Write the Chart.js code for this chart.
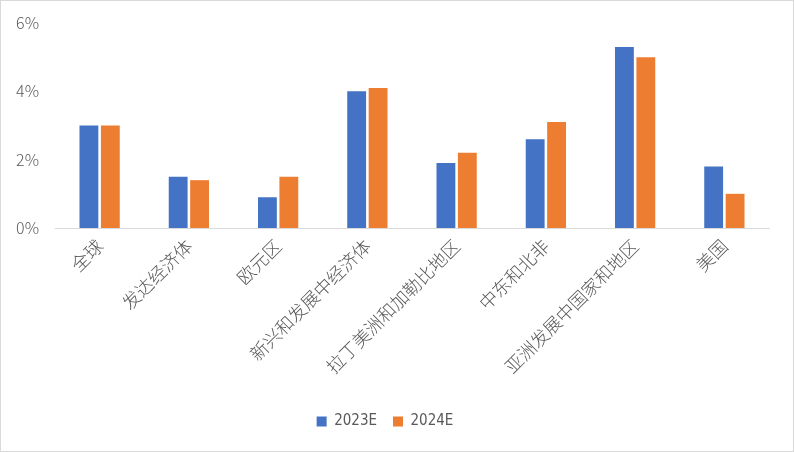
<!DOCTYPE html>
<html>
<head>
<meta charset="utf-8">
<script src="https://cdn.jsdelivr.net/npm/chart.js@4"></script>
<style>
html,body{margin:0;padding:0;background:#fff;}
#wrap{width:794px;height:452px;box-sizing:border-box;border:1px solid #d9d9d9;position:relative;}
canvas{display:block;}
</style>
</head>
<body>
<div id="wrap"><canvas id="c" width="792" height="450"></canvas></div>
<script>
const categories = ["全球","发达经济体","欧元区","新兴和发展中经济体","拉丁美洲和加勒比地区","中东和北非","亚洲发展中国家和地区","美国"];
const values2023 = [3.0, 1.5, 0.9, 4.0, 1.9, 2.6, 5.3, 1.8];
const values2024 = [3.0, 1.4, 1.5, 4.1, 2.2, 3.1, 5.0, 1.0];
const seriesNames = ["2023E","2024E"];
const yTicks = [0, 2, 4, 6];

const FONT = "'Noto Sans CJK SC','Noto Sans',sans-serif";
const NARROW = "'DejaVu Sans Condensed','Liberation Sans Narrow','Noto Sans CJK SC',sans-serif";
new Chart(document.getElementById('c'), {
  type: 'bar',
  data: {
    labels: categories,
    datasets: [
      {label: seriesNames[0], data: values2023, backgroundColor: '#4472C4', categoryPercentage: 0.48, barPercentage: 0.88},
      {label: seriesNames[1], data: values2024, backgroundColor: '#ED7D31', categoryPercentage: 0.48, barPercentage: 0.88}
    ]
  },
  options: {
    responsive: false,
    animation: false,
    layout: {padding: {top: 22, right: 24, bottom: 12, left: 0}},
    plugins: {
      tooltip: {enabled: false},
      legend: {
        position: 'bottom',
        labels: {boxWidth: 10, boxHeight: 10, padding: 16, color: '#595959', font: {family: NARROW, size: 15}}
      }
    },
    scales: {
      x: {
        grid: {display: false, drawTicks: false},
        border: {display: true, color: '#d9d9d9', width: 1},
        ticks: {minRotation: 45, maxRotation: 45, autoSkip: false, padding: 7, color: '#595959', font: {family: FONT, size: 18, weight: 300}},
        afterFit: s => { s.height = 170; s.paddingTop = 0; s.paddingBottom = 0; }
      },
      y: {
        min: 0, max: 6,
        afterBuildTicks: s => { s.ticks = yTicks.map(v => ({value: v})); },
        grid: {display: false, drawTicks: false},
        border: {display: false},
        ticks: {padding: 16, color: '#595959', font: {family: FONT, size: 16, weight: 300}, callback: v => v + '%'},
        afterFit: s => { s.width = 54; s.paddingTop = 0; s.paddingBottom = 0; }
      }
    }
  }
});
</script>
</body>
</html>
